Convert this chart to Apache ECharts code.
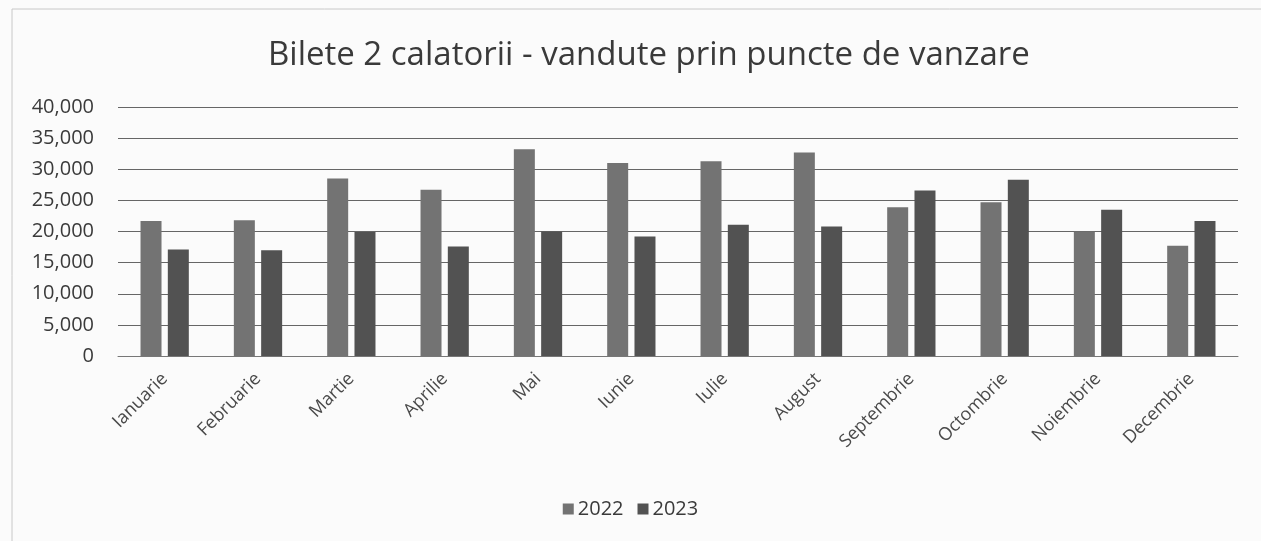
<!DOCTYPE html>
<html>
<head>
<meta charset="utf-8">
<script src="https://cdn.jsdelivr.net/npm/echarts@6/dist/echarts.min.js"></script>
<style>
  html, body { margin: 0; padding: 0; background: #fbfbfb; }
  #chart { width: 1261px; height: 541px; }
</style>
</head>
<body>
<div id="chart"></div>
<script>
var months = ["Ianuarie", "Februarie", "Martie", "Aprilie", "Mai", "Iunie",
  "Iulie", "August", "Septembrie", "Octombrie", "Noiembrie", "Decembrie"];
var data2022 = [21700, 21800, 28500, 26700, 33200, 31000, 31300, 32700, 23900, 24700, 20000, 17700];
var data2023 = [17100, 17000, 19900, 17600, 20000, 19200, 21100, 20800, 26600, 28300, 23500, 21700];
var yMax = 40000;
var yStep = 5000;

var font = "'Open Sans', 'Noto Sans', sans-serif";
var myChart = echarts.init(document.getElementById("chart"));

var option = {
  backgroundColor: "#fbfbfb",
  animation: false,
  graphic: [
    {
      type: "rect",
      shape: { x: 12, y: 9, width: 1260, height: 540 },
      style: { fill: "none", stroke: "#c8c8c8", lineWidth: 1 },
      silent: true
    }
  ],
  title: {
    text: "Bilete 2 calatorii - vandute prin puncte de vanzare",
    left: 263,
    top: 34,
    textStyle: {
      fontFamily: font,
      fontSize: 33,
      fontWeight: "normal",
      color: "#3a3a3a"
    }
  },
  legend: {
    bottom: 17,
    left: "center",
    itemWidth: 11,
    itemHeight: 11,
    itemGap: 14,
    icon: "rect",
    textStyle: { fontFamily: font, fontSize: 20, color: "#3a3a3a", padding: [0, 0, 0, -1] },
    data: ["2022", "2023"]
  },
  grid: {
    left: 118,
    right: 23,
    top: 107,
    bottom: 185
  },
  xAxis: {
    type: "category",
    data: months,
    axisTick: { show: false },
    axisLine: { show: true, lineStyle: { color: "#777", width: 1 } },
    axisLabel: {
      rotate: 45,
      interval: 0,
      margin: 20,
      fontFamily: font,
      fontSize: 18,
      color: "#4a4a4a"
    }
  },
  yAxis: {
    type: "value",
    min: 0,
    max: yMax,
    interval: yStep,
    axisLine: { show: false },
    axisTick: { show: false },
    splitLine: { lineStyle: { color: "#666", width: 1 } },
    axisLabel: {
      margin: 24,
      fontFamily: font,
      fontSize: 20,
      color: "#3a3a3a",
      formatter: function (v) {
        return v.toLocaleString("en-US");
      }
    }
  },
  series: [
    {
      name: "2022",
      type: "bar",
      data: data2022,
      barWidth: 21,
      barGap: "30%",
      itemStyle: { color: "#737373" }
    },
    {
      name: "2023",
      type: "bar",
      data: data2023,
      barWidth: 21,
      itemStyle: { color: "#525252" }
    }
  ]
};

myChart.setOption(option);
window.addEventListener("resize", function () {
  myChart.resize();
});
</script>
</body>
</html>
